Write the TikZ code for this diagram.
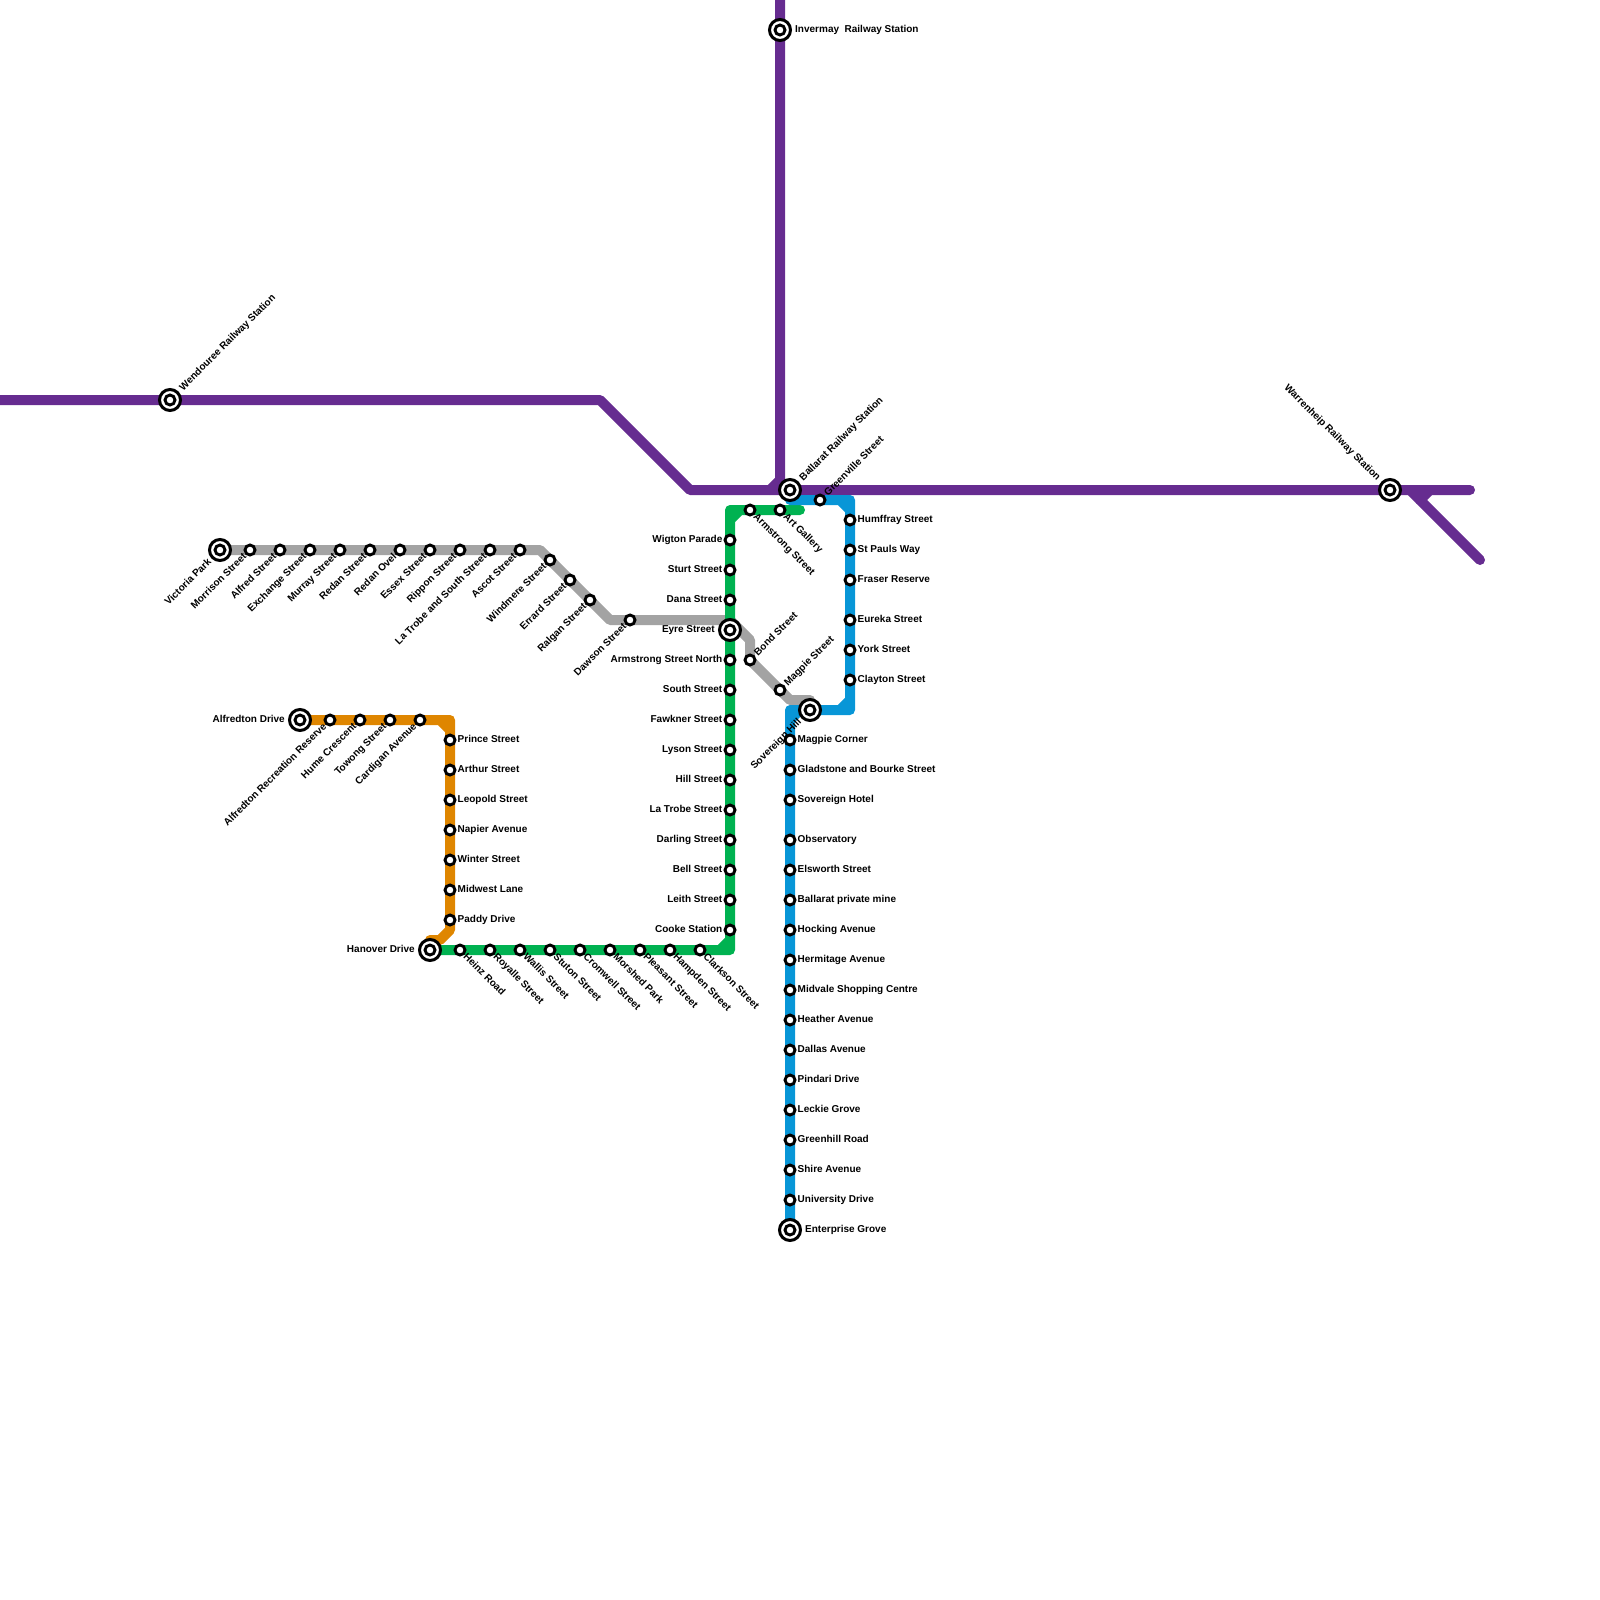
\documentclass[tikz,border=0pt]{standalone}
\usepackage{fontspec}
\setmainfont{Liberation Sans}
\definecolor{linepurple}{HTML}{662C90}
\definecolor{linegrey}{HTML}{A3A3A3}
\definecolor{linegreen}{HTML}{00B251}
\definecolor{lineblue}{HTML}{0896D7}
\definecolor{lineorange}{HTML}{DF8600}
\tikzset{
    track/.style={line width=10pt, line cap=round, line join=round},
    stop/.style={circle, draw=black, fill=white, line width=2.9pt, minimum size=10pt, inner sep=0pt, outer sep=0pt},
    hub/.style={circle, draw=black, fill=white, line width=3pt, minimum size=21pt, inner sep=0pt, outer sep=0pt},
    lab/.style={font=\fontsize{10}{12}\selectfont\bfseries, inner sep=0pt, text height=7.2pt, text depth=0pt, yshift=0.7pt},
    labr/.style={lab, anchor=west, xshift=#1}, labr/.default=7.5pt,
    labl/.style={lab, anchor=east, xshift=-#1}, labl/.default=7.5pt,
    labne/.style={lab, rotate=45, anchor=west, xshift=#1}, labne/.default=7.5pt,
    labsw/.style={lab, rotate=45, anchor=east, xshift=-#1}, labsw/.default=7.5pt,
    labse/.style={lab, rotate=-45, anchor=west, xshift=#1}, labse/.default=7.5pt,
    labnw/.style={lab, rotate=-45, anchor=east, xshift=-#1}, labnw/.default=7.5pt,
}
\begin{document}
\begin{tikzpicture}[x=1pt, y=-1pt]
    \useasboundingbox (0,0) rectangle (1600,1600);
    % lines
    \draw[track, linepurple] (-10,400) -- (600,400) -- (690,490) -- (1470,490);
    \draw[track, linepurple] (780,-10) -- (780,480) -- (770,490);
    \draw[track, linepurple] (1430,490) -- (1420,500);
    \draw[track, linepurple] (1410,490) -- (1480,560);
    \draw[track, lineorange] (300,720) -- (450,720) -- (450,730) -- (440,720) -- (450,720) -- (450,930) -- (440,940) -- (430,940) -- (430,950);
    \draw[track, linegrey] (220,550) -- (540,550) -- (610,620) -- (730,620) -- (750,640) -- (750,660) -- (790,700) -- (810,700);
    \draw[track, linegreen] (430,950) -- (730,950) -- (730,940) -- (720,950) -- (730,950) -- (730,510) -- (730,520) -- (740,510) -- (730,510) -- (800,510);
    \draw[track, lineblue] (790,500) -- (850,500) -- (850,510) -- (840,500) -- (850,500) -- (850,710) -- (850,700) -- (840,710) -- (850,710) -- (790,710) -- (790,720) -- (800,710) -- (790,710) -- (790,1230);
    % purple stations
    \node[hub] (wendouree) at (170,400) {};
    \node[hub] (invermay) at (780,30) {};
    \node[hub] (ballarat) at (790,490) {};
    \node[hub] (warrenheip) at (1390,490) {};
    \node[labne=15pt] (wendoureetxt) at (wendouree) {Wendouree Railway Station};
    \node[labr=15pt] (invermaytxt) at (invermay) {Invermay\ \ Railway Station};
    \node[labne=15pt] (ballarattxt) at (ballarat) {Ballarat Railway Station};
    \node[labnw=15pt] (warrenheiptxt) at (warrenheip) {Warrenheip Railway Station};
    % grey stations
    \node[hub] (victoria) at (220,550) {};
    \node[labsw=15pt] (victoriatxt) at (victoria) {Victoria Park};
    \node[stop] (morrison) at (250,550) {};
    \node[labsw] (morrisontxt) at (morrison) {Morrison Street};
    \node[stop] (alfred) at (280,550) {};
    \node[labsw] (alfredtxt) at (alfred) {Alfred Street};
    \node[stop] (exchange) at (310,550) {};
    \node[labsw] (exchangetxt) at (exchange) {Exchange Street};
    \node[stop] (murray) at (340,550) {};
    \node[labsw] (murraytxt) at (murray) {Murray Street};
    \node[stop] (redan) at (370,550) {};
    \node[labsw] (redantxt) at (redan) {Redan Street};
    \node[stop] (redanovel) at (400,550) {};
    \node[labsw] (redanoveltxt) at (redanovel) {Redan Ovel};
    \node[stop] (essex) at (430,550) {};
    \node[labsw] (essextxt) at (essex) {Essex Street};
    \node[stop] (rippon) at (460,550) {};
    \node[labsw] (rippontxt) at (rippon) {Rippon Street};
    \node[stop] (latrobesouth) at (490,550) {};
    \node[labsw] (latrobesouthtxt) at (latrobesouth) {La Trobe and South Street};
    \node[stop] (ascot) at (520,550) {};
    \node[labsw] (ascottxt) at (ascot) {Ascot Street};
    \node[stop] (windmere) at (550,560) {};
    \node[labsw] (windmeretxt) at (windmere) {Windmere Street};
    \node[stop] (errard) at (570,580) {};
    \node[labsw] (errardtxt) at (errard) {Errard Street};
    \node[stop] (ralgan) at (590,600) {};
    \node[labsw] (ralgantxt) at (ralgan) {Ralgan Street};
    \node[stop] (dawson) at (630,620) {};
    \node[labsw] (dawsontxt) at (dawson) {Dawson Street};
    \node[stop] (bond) at (750,660) {};
    \node[labne] (bondtxt) at (bond) {Bond Street};
    \node[stop] (magpiest) at (780,690) {};
    \node[labne] (magpiesttxt) at (magpiest) {Magpie Street};
    \node[hub] (sovereign) at (810,710) {};
    \node[labsw=15pt] (sovereigntxt) at (sovereign) {Sovereign Hill};
    % green stations
    \node[stop] (armstrong) at (750,510) {};
    \node[labse] (armstrongtxt) at (armstrong) {Armstrong Street};
    \node[stop] (artgallery) at (780,510) {};
    \node[labse] (artgallerytxt) at (artgallery) {Art Gallery};
    \node[stop] (wigton) at (730,540) {};
    \node[labl] (wigtontxt) at (wigton) {Wigton Parade};
    \node[stop] (sturt) at (730,570) {};
    \node[labl] (sturttxt) at (sturt) {Sturt Street};
    \node[stop] (dana) at (730,600) {};
    \node[labl] (danatxt) at (dana) {Dana Street};
    \node[hub] (eyre) at (730,630) {};
    \node[labl=15pt] (eyretxt) at (eyre) {Eyre Street};
    \node[stop] (armstrongn) at (730,660) {};
    \node[labl] (armstrongntxt) at (armstrongn) {Armstrong Street North};
    \node[stop] (south) at (730,690) {};
    \node[labl] (southtxt) at (south) {South Street};
    \node[stop] (fawkner) at (730,720) {};
    \node[labl] (fawknertxt) at (fawkner) {Fawkner Street};
    \node[stop] (lyson) at (730,750) {};
    \node[labl] (lysontxt) at (lyson) {Lyson Street};
    \node[stop] (hill) at (730,780) {};
    \node[labl] (hilltxt) at (hill) {Hill Street};
    \node[stop] (latrobe) at (730,810) {};
    \node[labl] (latrobetxt) at (latrobe) {La Trobe Street};
    \node[stop] (darling) at (730,840) {};
    \node[labl] (darlingtxt) at (darling) {Darling Street};
    \node[stop] (bell) at (730,870) {};
    \node[labl] (belltxt) at (bell) {Bell Street};
    \node[stop] (leith) at (730,900) {};
    \node[labl] (leithtxt) at (leith) {Leith Street};
    \node[stop] (cooke) at (730,930) {};
    \node[labl] (cooketxt) at (cooke) {Cooke Station};
    \node[hub] (hanover) at (430,950) {};
    \node[labl=15pt] (hanovertxt) at (hanover) {Hanover Drive};
    \node[stop] (heinz) at (460,950) {};
    \node[labse] (heinztxt) at (heinz) {Heinz Road};
    \node[stop] (royalle) at (490,950) {};
    \node[labse] (royalletxt) at (royalle) {Royalle Street};
    \node[stop] (wallis) at (520,950) {};
    \node[labse] (wallistxt) at (wallis) {Wallis Street};
    \node[stop] (stuton) at (550,950) {};
    \node[labse] (stutontxt) at (stuton) {Stuton Street};
    \node[stop] (cromwell) at (580,950) {};
    \node[labse] (cromwelltxt) at (cromwell) {Cromwell Street};
    \node[stop] (morshed) at (610,950) {};
    \node[labse] (morshedtxt) at (morshed) {Morshed Park};
    \node[stop] (pleasant) at (640,950) {};
    \node[labse] (pleasanttxt) at (pleasant) {Pleasant Street};
    \node[stop] (hampden) at (670,950) {};
    \node[labse] (hampdentxt) at (hampden) {Hampden Street};
    \node[stop] (clarkson) at (700,950) {};
    \node[labse] (clarksontxt) at (clarkson) {Clarkson Street};
    % blue stations
    \node[stop] (greenville) at (820,500) {};
    \node[labne] (greenvilletxt) at (greenville) {Greenville Street};
    \node[stop] (humffray) at (850,520) {};
    \node[labr] (humffraytxt) at (humffray) {Humffray Street};
    \node[stop] (stpauls) at (850,550) {};
    \node[labr] (stpaulstxt) at (stpauls) {St Pauls Way};
    \node[stop] (fraser) at (850,580) {};
    \node[labr] (frasertxt) at (fraser) {Fraser Reserve};
    \node[stop] (eureka) at (850,620) {};
    \node[labr] (eurekatxt) at (eureka) {Eureka Street};
    \node[stop] (york) at (850,650) {};
    \node[labr] (yorktxt) at (york) {York Street};
    \node[stop] (clayton) at (850,680) {};
    \node[labr] (claytontxt) at (clayton) {Clayton Street};
    \node[stop] (magpiecnr) at (790,740) {};
    \node[labr] (magpiecnrtxt) at (magpiecnr) {Magpie Corner};
    \node[stop] (gladstone) at (790,770) {};
    \node[labr] (gladstonetxt) at (gladstone) {Gladstone and Bourke Street};
    \node[stop] (hotel) at (790,800) {};
    \node[labr] (hoteltxt) at (hotel) {Sovereign Hotel};
    \node[stop] (observatory) at (790,840) {};
    \node[labr] (observatorytxt) at (observatory) {Observatory};
    \node[stop] (elsworth) at (790,870) {};
    \node[labr] (elsworthtxt) at (elsworth) {Elsworth Street};
    \node[stop] (mine) at (790,900) {};
    \node[labr] (minetxt) at (mine) {Ballarat private mine};
    \node[stop] (hocking) at (790,930) {};
    \node[labr] (hockingtxt) at (hocking) {Hocking Avenue};
    \node[stop] (hermitage) at (790,960) {};
    \node[labr] (hermitagetxt) at (hermitage) {Hermitage Avenue};
    \node[stop] (midvale) at (790,990) {};
    \node[labr] (midvaletxt) at (midvale) {Midvale Shopping Centre};
    \node[stop] (heather) at (790,1020) {};
    \node[labr] (heathertxt) at (heather) {Heather Avenue};
    \node[stop] (dallas) at (790,1050) {};
    \node[labr] (dallastxt) at (dallas) {Dallas Avenue};
    \node[stop] (pindari) at (790,1080) {};
    \node[labr] (pindaritxt) at (pindari) {Pindari Drive};
    \node[stop] (leckie) at (790,1110) {};
    \node[labr] (leckietxt) at (leckie) {Leckie Grove};
    \node[stop] (greenhill) at (790,1140) {};
    \node[labr] (greenhilltxt) at (greenhill) {Greenhill Road};
    \node[stop] (shire) at (790,1170) {};
    \node[labr] (shiretxt) at (shire) {Shire Avenue};
    \node[stop] (university) at (790,1200) {};
    \node[labr] (universitytxt) at (university) {University Drive};
    \node[hub] (enterprise) at (790,1230) {};
    \node[labr=15pt] (enterprisetxt) at (enterprise) {Enterprise Grove};
    % orange stations
    \node[hub] (alfredton) at (300,720) {};
    \node[labl=15pt] (alfredtontxt) at (alfredton) {Alfredton Drive};
    \node[stop] (reserve) at (330,720) {};
    \node[labsw] (reservetxt) at (reserve) {Alfredton Recreation Reserve};
    \node[stop] (hume) at (360,720) {};
    \node[labsw] (humetxt) at (hume) {Hume Crescent};
    \node[stop] (towong) at (390,720) {};
    \node[labsw] (towongtxt) at (towong) {Towong Street};
    \node[stop] (cardigan) at (420,720) {};
    \node[labsw] (cardigantxt) at (cardigan) {Cardigan Avenue};
    \node[stop] (prince) at (450,740) {};
    \node[labr] (princetxt) at (prince) {Prince Street};
    \node[stop] (arthur) at (450,770) {};
    \node[labr] (arthurtxt) at (arthur) {Arthur Street};
    \node[stop] (leopold) at (450,800) {};
    \node[labr] (leopoldtxt) at (leopold) {Leopold Street};
    \node[stop] (napier) at (450,830) {};
    \node[labr] (napiertxt) at (napier) {Napier Avenue};
    \node[stop] (winter) at (450,860) {};
    \node[labr] (wintertxt) at (winter) {Winter Street};
    \node[stop] (midwest) at (450,890) {};
    \node[labr] (midwesttxt) at (midwest) {Midwest Lane};
    \node[stop] (paddy) at (450,920) {};
    \node[labr] (paddytxt) at (paddy) {Paddy Drive};
    % inner rings of the hubs
    \node[stop] (wendoureeeye) at (wendouree) {};
    \node[stop] (invermayeye) at (invermay) {};
    \node[stop] (ballarateye) at (ballarat) {};
    \node[stop] (warrenheipeye) at (warrenheip) {};
    \node[stop] (victoriaeye) at (victoria) {};
    \node[stop] (sovereigneye) at (sovereign) {};
    \node[stop] (eyreeye) at (eyre) {};
    \node[stop] (hanovereye) at (hanover) {};
    \node[stop] (enterpriseeye) at (enterprise) {};
    \node[stop] (alfredtoneye) at (alfredton) {};
\end{tikzpicture}
\end{document}
